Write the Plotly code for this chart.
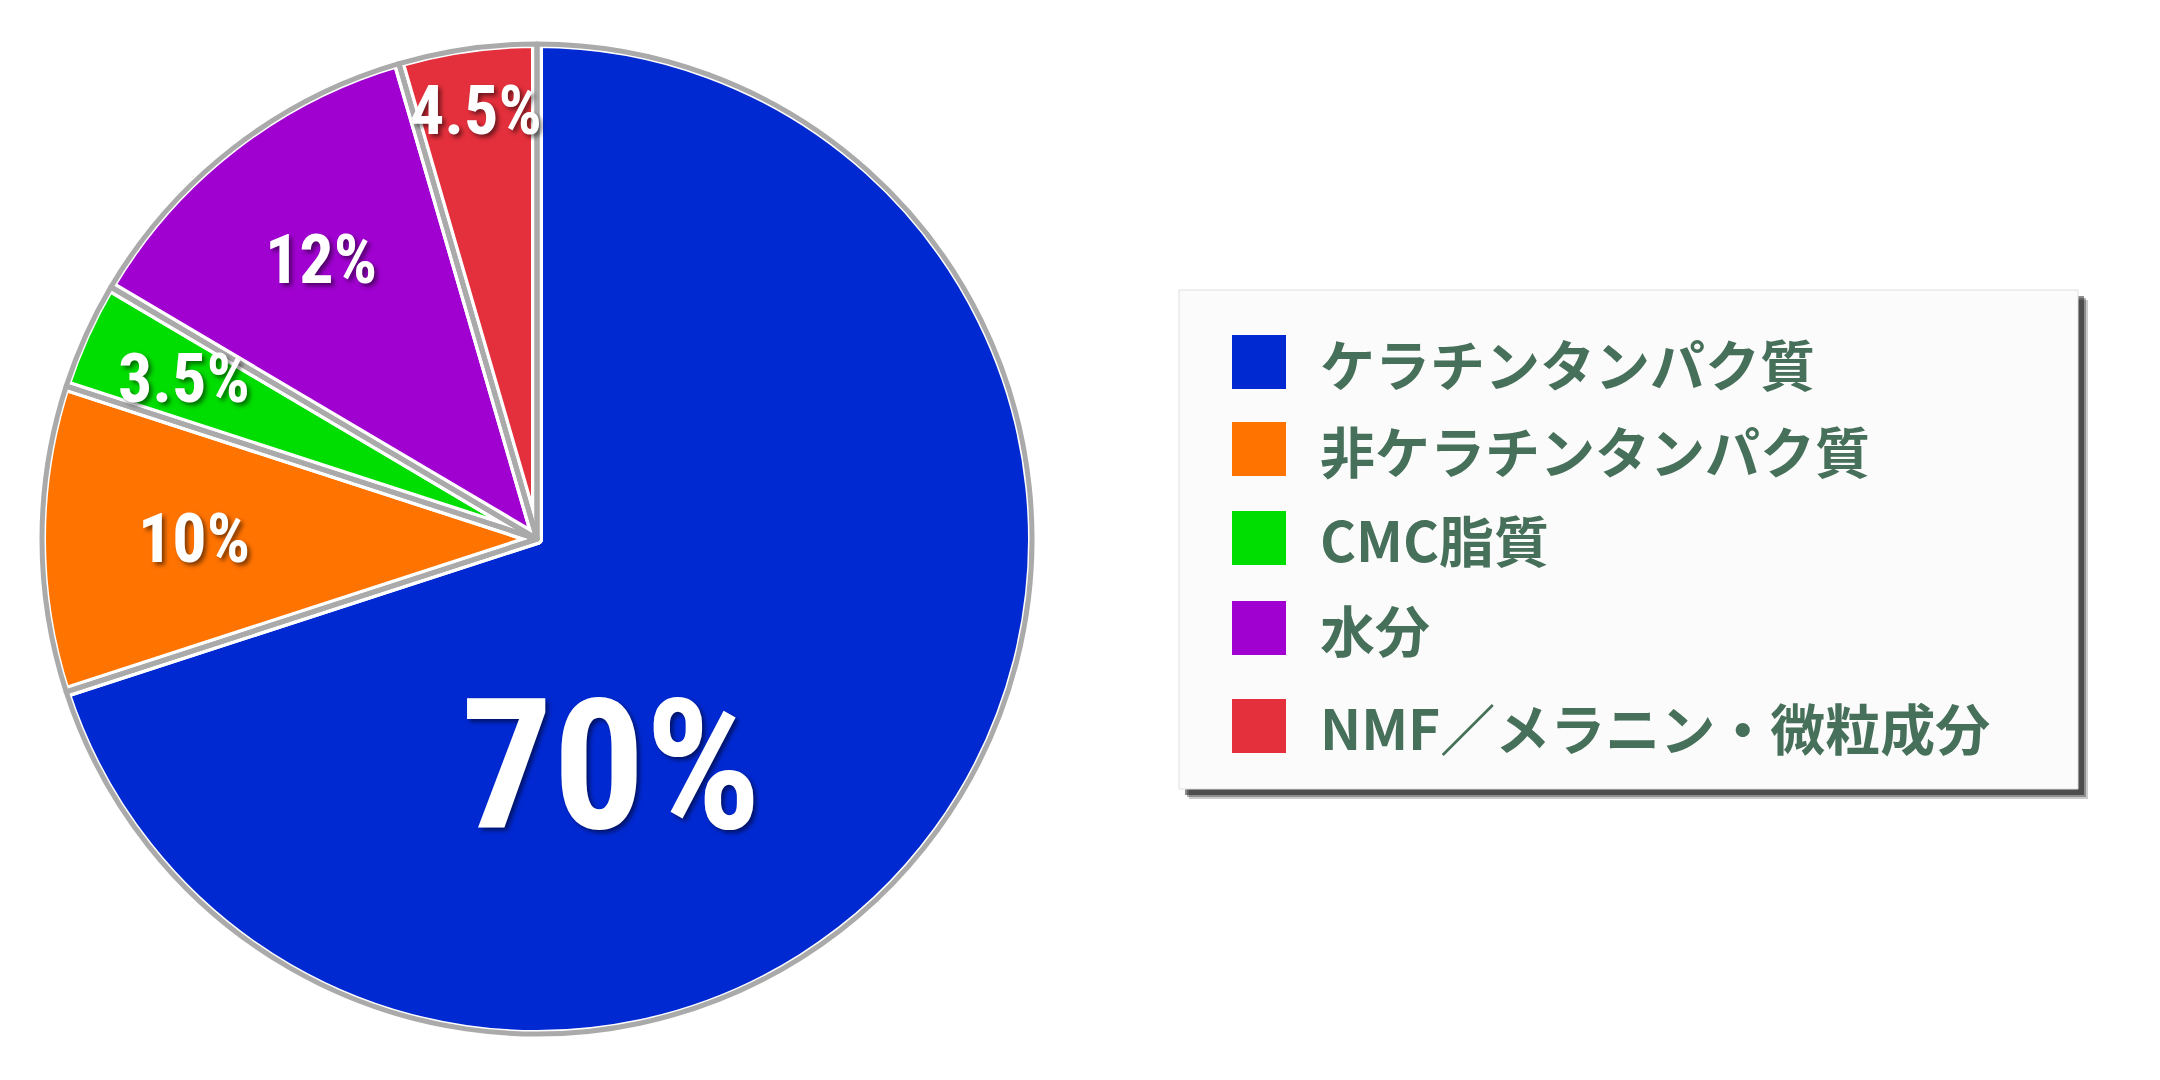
import math
import plotly.graph_objects as go

# ---- data ----
labels = ["ケラチンタンパク質", "非ケラチンタンパク質", "CMC脂質", "水分", "NMF／メラニン・微粒成分"]
values = [70, 10, 3.5, 12, 4.5]
value_text = ["70%", "10%", "3.5%", "12%", "4.5%"]
colors = ["#0029D1", "#FF7300", "#00DD00", "#A000D0", "#E3303C"]

# ---- style ----
W, H = 2160, 1080
CX, CY = 537, 539          # pie centre (px, from top-left)
R = 497                    # pie radius (px)
label_rfrac = [0.48, 0.69, 0.78, 0.71, 0.87]
label_shift_deg = [36, 0, 0, 0, 0]
label_size = [182, 68, 68, 68, 68]
label_font = "Liberation Sans Narrow, Roboto Condensed, Roboto, sans-serif"

def dom(cx, cy, r):
    return dict(x=[(cx - r) / W, (cx + r) / W],
                y=[1 - (cy + r) / H, 1 - (cy - r) / H])

fig = go.Figure()
fig.add_trace(go.Pie(
    labels=labels, values=values, sort=False, direction="clockwise", rotation=0,
    marker=dict(colors=colors, line=dict(color="white", width=12)),
    textinfo="none", hoverinfo="label+percent", showlegend=False,
    domain=dom(CX, CY, R),
))
fig.add_trace(go.Pie(
    labels=labels, values=values, sort=False, direction="clockwise", rotation=0,
    marker=dict(colors=["rgba(0,0,0,0)"] * len(values), line=dict(color="#AAAAAA", width=5)),
    textinfo="none", hoverinfo="skip", showlegend=False,
    domain=dom(CX, CY, R - 2),
))

# slice labels placed from the cumulative values
total = sum(values)
cum = 0
annotations = []
for v, t, rf, sh, fs in zip(values, value_text, label_rfrac, label_shift_deg, label_size):
    theta = math.radians((cum + v / 2) / total * 360 + sh)
    cum += v
    px = CX + rf * R * math.sin(theta)
    py = CY - rf * R * math.cos(theta)
    annotations.append(dict(
        x=px / W, y=1 - py / H, xref="paper", yref="paper",
        text=t, showarrow=False, xanchor="center", yanchor="middle",
        font=dict(family=label_font, size=fs, color="white", weight="bold",
                  shadow="3px 3px 4px rgba(0,0,0,0.5)"),
    ))

# ---- manual legend ----
BX0, BY0, BX1, BY1 = 1179, 290, 2078, 789
row_y = [362, 449, 538, 628, 726]
shapes = []
for off, op in [(10, 0.2), (8, 0.3), (6, 0.45)]:
    shapes.append(dict(type="rect", xref="paper", yref="paper",
                       x0=(BX0 + off) / W, x1=(BX1 + off) / W,
                       y0=1 - (BY1 + off) / H, y1=1 - (BY0 + off) / H,
                       fillcolor=f"rgba(0,0,0,{op})", line=dict(width=0), layer="above"))
shapes.append(dict(type="rect", xref="paper", yref="paper",
                   x0=BX0 / W, x1=BX1 / W, y0=1 - BY1 / H, y1=1 - BY0 / H,
                   fillcolor="#FBFBFB", line=dict(width=1, color="#E0E0E0"), layer="above"))
for lab, col, yc in zip(labels, colors, row_y):
    shapes.append(dict(type="rect", xref="paper", yref="paper",
                       x0=1232 / W, x1=1286 / W, y0=1 - (yc + 27) / H, y1=1 - (yc - 27) / H,
                       fillcolor=col, line=dict(width=0), layer="above"))
    annotations.append(dict(
        x=1318 / W, y=1 - yc / H, xref="paper", yref="paper", text=lab,
        showarrow=False, xanchor="left", yanchor="middle",
        font=dict(family="Noto Sans CJK JP", size=55, color="#47705A", weight="bold"),
    ))

fig.update_layout(
    width=W, height=H, margin=dict(l=0, r=0, t=0, b=0),
    paper_bgcolor="white", plot_bgcolor="white",
    shapes=shapes, annotations=annotations, showlegend=False,
)
fig.write_html("out.html")
